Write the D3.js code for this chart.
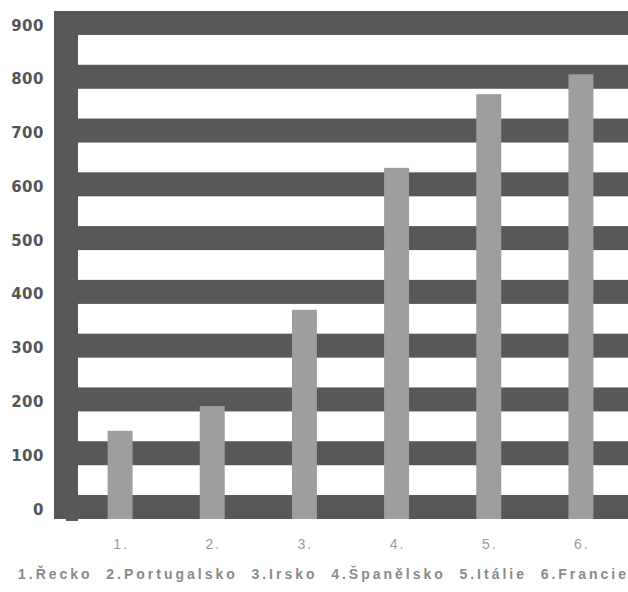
<!DOCTYPE html>
<html><head><meta charset="utf-8">
<script src="https://cdn.jsdelivr.net/npm/d3@7"></script>
<style>body{margin:0;background:#fff}</style>
</head><body>
<svg id="c" width="628" height="592"></svg>
<script>
const categories = ["1.", "2.", "3.", "4.", "5.", "6."];
const values = [164, 210, 389, 653, 790, 827];
const yTicks = [0, 100, 200, 300, 400, 500, 600, 700, 800, 900];
const legendText = "1.Řecko  2.Portugalsko  3.Irsko  4.Španělsko  5.Itálie  6.Francie";

const svg = d3.select("#c");
const dark = "#58585a", barCol = "#9d9ea0";
const y = d3.scaleLinear().domain([0, 900]).range([519, 35]);
const x = d3.scaleBand().domain(categories).range([74, 627]).paddingInner(0.729).paddingOuter(0.3645);
const bandH = 24;

// horizontal bands
svg.append("g").selectAll("rect").data(yTicks).join("rect")
  .attr("x", 54).attr("width", 574)
  .attr("y", d => y(d) - bandH).attr("height", bandH)
  .attr("fill", dark);
// left vertical bar
svg.append("rect").attr("x", 54).attr("width", 24)
  .attr("y", y(900) - bandH).attr("height", y(0) - y(900) + bandH).attr("fill", dark);
svg.append("rect").attr("x", 66).attr("width", 12)
  .attr("y", y(0)).attr("height", 2).attr("fill", dark);

// bars
svg.append("g").selectAll("rect").data(values).join("rect")
  .attr("x", (d, i) => x(categories[i]))
  .attr("width", x.bandwidth())
  .attr("y", d => y(d)).attr("height", d => y(0) - y(d))
  .attr("fill", barCol);

// y labels
svg.append("g").selectAll("text").data(yTicks).join("text")
  .attr("x", 44).attr("y", d => y(d) - bandH / 2 + 3)
  .attr("text-anchor", "end").attr("dominant-baseline", "middle")
  .attr("font-family", "DejaVu Sans").attr("font-weight", "bold")
  .attr("font-size", 15).attr("letter-spacing", "0.5")
  .attr("fill", "#555557")
  .text(d => d);

// x labels
svg.append("g").selectAll("text").data(categories).join("text")
  .attr("x", d => x(d) + x.bandwidth() / 2 + 1).attr("y", 545)
  .attr("text-anchor", "middle").attr("dominant-baseline", "middle")
  .attr("font-family", "Liberation Sans").attr("font-size", 14)
  .attr("letter-spacing", "2").attr("fill", "#999a9c")
  .text(d => d);

// legend
svg.append("text").attr("x", 18).attr("y", 579)
  .attr("font-family", "Liberation Sans").attr("font-weight", "bold")
  .attr("font-size", 14).attr("fill", "#8a8a8c")
  .attr("textLength", 608).attr("lengthAdjust", "spacing")
  .attr("xml:space", "preserve").style("white-space", "pre")
  .text(legendText);
</script>
</body></html>
